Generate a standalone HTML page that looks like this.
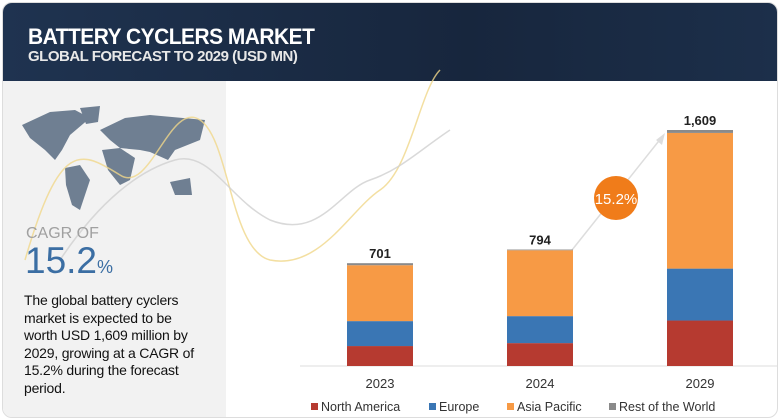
<!DOCTYPE html>
<html><head><meta charset="utf-8">
<style>
body{margin:0;width:780px;height:420px;overflow:hidden;background:#fff;font-family:"Liberation Sans",sans-serif;position:relative}
.abs{position:absolute}
</style></head><body>
<div class="abs" style="left:2px;top:2px;width:774px;height:414px;border:1px solid #ddd;border-radius:10px;overflow:hidden">
<div class="abs" style="left:0;top:0;width:774px;height:78px;background:linear-gradient(90deg,#1f3350,#17263d 60%,#1c2f4a)"></div>
<div class="abs" style="left:0;top:78px;width:223px;height:336px;background:#f2f2f2"></div>
</div>
<div class="abs" style="left:28px;top:24px;color:#fff;font-size:22px;font-weight:bold;letter-spacing:-0.5px;transform:scaleX(0.95);transform-origin:left">BATTERY CYCLERS MARKET</div>
<div class="abs" style="left:28px;top:48px;color:#e8e8e8;font-size:15px;font-weight:bold;letter-spacing:-0.5px">GLOBAL FORECAST TO 2029 (USD MN)</div>
<svg class="abs" style="left:0;top:0" width="780" height="420">
<g fill="#6f7f92">
<path d="M22 125 L50 112 L75 110 L90 118 L70 135 L62 150 L55 160 L45 150 L30 138Z"/>
<path d="M80 108 L100 106 L98 122 L86 124Z"/>
<path d="M65 168 L80 165 L90 180 L80 210 L72 205 L66 185Z"/>
<path d="M100 130 L125 118 L150 115 L205 120 L200 140 L175 150 L168 160 L150 152 L140 150 L120 148 L110 140Z"/>
<path d="M102 150 L120 148 L135 158 L130 180 L120 185 L108 170Z"/>
<path d="M170 182 L190 178 L192 195 L175 195Z"/>
</g>
<path d="M25 260 C60 140 80 150 120 175 C150 195 170 100 200 120 C230 140 230 250 270 260 C320 270 350 210 380 190 C410 170 420 90 440 70" stroke="#f0d78a" stroke-width="1.5" fill="none" opacity="0.8"/>
<path d="M60 260 C100 200 140 170 175 160 C210 150 230 200 270 220 C320 240 340 190 370 180 C400 170 420 150 450 130" stroke="#d0d0d0" stroke-width="1.5" fill="none" opacity="0.8"/>
<line x1="572" y1="250" x2="662" y2="137" stroke="#ddd" stroke-width="1.5"/>
<polygon points="665,133 656,140 662,145" fill="#ddd"/>
<circle cx="616" cy="198" r="22" fill="#f07c1a"/>
<text x="616" y="204" fill="#fff" font-size="15" text-anchor="middle" font-family="Liberation Sans">15.2%</text>
<line x1="300" y1="366" x2="778" y2="366" stroke="#ddd" stroke-width="1"/>
<g id="bars"></g>
</svg>
<div class="abs" style="left:26px;top:225px;color:#a0a0a0;font-size:16px">CAGR OF</div>
<div class="abs" style="left:25px;top:240px;color:#3b6ea3;font-size:37px">15.2<span style="font-size:18px">%</span></div>
<div class="abs" style="left:24px;top:292px;width:210px;color:#111;font-size:14px;line-height:17.5px;white-space:nowrap;letter-spacing:-0.2px">The global battery cyclers<br>market is expected to be<br>worth USD 1,609 million by<br>2029, growing at a CAGR of<br>15.2% during the forecast<br>period.</div>
<script>
const categories=["2023","2024","2029"];
const northAmerica=[136,156,310];
const europe=[170,184,354];
const asiaPacific=[381,449,925];
const restOfWorld=[14,5,20];
const totals=["701","794","1,609"];
const seriesNames=["North America","Europe","Asia Pacific","Rest of the World"];
const colors=["#b63a30","#3a76b4","#f79a45","#8a8a8a"];
const ns="http://www.w3.org/2000/svg";
const g=document.getElementById('bars');
const base=366, scale=236/1609;
const xPos=i=>347+i*160;
const yH=v=>v*scale;
const series=[northAmerica,europe,asiaPacific,restOfWorld];
categories.forEach((c,i)=>{
 let y=base;
 series.forEach((s,k)=>{
  const h=yH(s[i]);y-=h;
  const r=document.createElementNS(ns,'rect');
  r.setAttribute('x',xPos(i));r.setAttribute('y',y);r.setAttribute('width',66);r.setAttribute('height',h);r.setAttribute('fill',colors[k]);
  
  
  g.appendChild(r);
 });
 const t=document.createElementNS(ns,'text');
 t.setAttribute('x',xPos(i)+33);t.setAttribute('y',y-5);t.setAttribute('text-anchor','middle');t.setAttribute('font-size','13');t.setAttribute('font-weight','bold');t.setAttribute('font-family','Liberation Sans');t.setAttribute('fill','#222');
 t.textContent=totals[i];
 
 
 g.appendChild(t);
 const l=document.createElementNS(ns,'text');
 l.setAttribute('x',xPos(i)+33);l.setAttribute('y',388);l.setAttribute('text-anchor','middle');l.setAttribute('font-size','13');l.setAttribute('font-family','Liberation Sans');l.setAttribute('fill','#333');
 l.textContent=c;
 
 
 g.appendChild(l);
});
const lx=[311,429,507,609];
seriesNames.forEach((n,k)=>{
 const r=document.createElementNS(ns,'rect');
 r.setAttribute('x',lx[k]);r.setAttribute('y',403);r.setAttribute('width',7);r.setAttribute('height',7);r.setAttribute('fill',colors[k]);
 
 
 g.appendChild(r);
 const t=document.createElementNS(ns,'text');
 t.setAttribute('x',lx[k]+10);t.setAttribute('y',411);t.setAttribute('font-size','12.5');t.setAttribute('font-family','Liberation Sans');t.setAttribute('fill','#333');
 t.textContent=n;
 
 
 g.appendChild(t);
});
</script>
</body></html>
